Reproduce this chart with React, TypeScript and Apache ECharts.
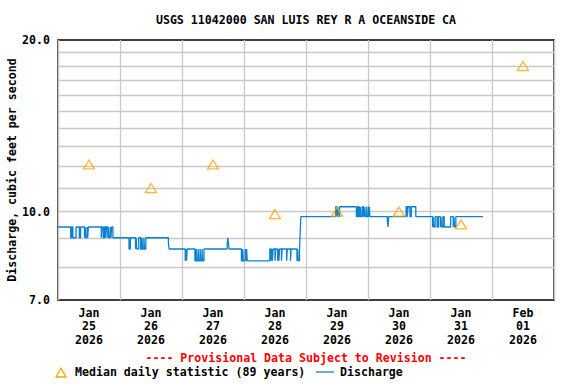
import React, { useEffect, useRef } from "react";
import * as echarts from "echarts";

const TITLE = "USGS 11042000 SAN LUIS REY R A OCEANSIDE CA";
const Y_NAME = "Discharge, cubic feet per second";
const PROVISIONAL = "---- Provisional Data Subject to Revision ----";
const MEDIAN_NAME = "Median daily statistic (89 years)";
const DISCHARGE_NAME = "Discharge";

const X_MIN = "2026-01-25 00:00";
const X_MAX = "2026-02-02 00:00";
const Y_MIN = 7;
const Y_MAX = 20;

const dayLabels = [
  "Jan\n25\n2026",
  "Jan\n26\n2026",
  "Jan\n27\n2026",
  "Jan\n28\n2026",
  "Jan\n29\n2026",
  "Jan\n30\n2026",
  "Jan\n31\n2026",
  "Feb\n01\n2026",
];

const medianValues = [12.1, 11.0, 12.1, 9.9, 10.0, 10.0, 9.5, 18.0];

const yGridValues = [8, 9, 10, 11, 12, 13, 14, 15, 16, 17, 18, 19];

// change points of the 15-minute discharge record (value holds until next point)
const discharge: [string, number][] = [
  ["2026-01-25 00:00", 9.4],
  ["2026-01-25 04:55", 9.0],
  ["2026-01-25 05:15", 9.4],
  ["2026-01-25 05:45", 9.0],
  ["2026-01-25 07:00", 9.4],
  ["2026-01-25 08:15", 9.0],
  ["2026-01-25 08:45", 9.4],
  ["2026-01-25 10:15", 9.0],
  ["2026-01-25 10:30", 9.4],
  ["2026-01-25 10:45", 9.0],
  ["2026-01-25 11:15", 9.4],
  ["2026-01-25 11:30", 9.0],
  ["2026-01-25 11:45", 9.4],
  ["2026-01-25 16:45", 9.0],
  ["2026-01-25 17:00", 9.4],
  ["2026-01-25 17:30", 9.0],
  ["2026-01-25 18:00", 9.4],
  ["2026-01-25 18:30", 9.0],
  ["2026-01-25 18:45", 9.4],
  ["2026-01-25 19:15", 9.0],
  ["2026-01-25 19:30", 9.4],
  ["2026-01-25 19:45", 9.0],
  ["2026-01-25 20:15", 9.4],
  ["2026-01-25 20:30", 9.0],
  ["2026-01-25 20:45", 9.4],
  ["2026-01-25 21:15", 9.0],
  ["2026-01-26 03:30", 8.6],
  ["2026-01-26 04:00", 9.0],
  ["2026-01-26 06:00", 8.6],
  ["2026-01-26 06:15", 9.0],
  ["2026-01-26 06:30", 8.6],
  ["2026-01-26 07:15", 9.0],
  ["2026-01-26 08:00", 8.6],
  ["2026-01-26 08:30", 9.0],
  ["2026-01-26 08:45", 8.6],
  ["2026-01-26 09:15", 9.0],
  ["2026-01-26 09:30", 8.6],
  ["2026-01-26 10:00", 9.0],
  ["2026-01-26 18:45", 8.8],
  ["2026-01-26 19:00", 8.6],
  ["2026-01-27 01:15", 8.2],
  ["2026-01-27 01:30", 8.6],
  ["2026-01-27 01:45", 8.2],
  ["2026-01-27 02:00", 8.6],
  ["2026-01-27 05:00", 8.2],
  ["2026-01-27 05:30", 8.6],
  ["2026-01-27 05:45", 8.2],
  ["2026-01-27 06:15", 8.6],
  ["2026-01-27 06:30", 8.2],
  ["2026-01-27 07:00", 8.6],
  ["2026-01-27 07:15", 8.2],
  ["2026-01-27 07:45", 8.6],
  ["2026-01-27 08:00", 8.2],
  ["2026-01-27 08:30", 8.6],
  ["2026-01-27 17:30", 8.8],
  ["2026-01-27 17:45", 9.0],
  ["2026-01-27 18:00", 8.8],
  ["2026-01-27 18:15", 8.6],
  ["2026-01-27 23:00", 8.2],
  ["2026-01-27 23:30", 8.6],
  ["2026-01-27 23:45", 8.2],
  ["2026-01-28 00:30", 8.6],
  ["2026-01-28 00:45", 8.2],
  ["2026-01-28 01:00", 8.6],
  ["2026-01-28 01:15", 8.2],
  ["2026-01-28 10:00", 8.6],
  ["2026-01-28 10:30", 8.2],
  ["2026-01-28 10:45", 8.6],
  ["2026-01-28 11:00", 8.2],
  ["2026-01-28 11:15", 8.6],
  ["2026-01-28 12:00", 8.2],
  ["2026-01-28 12:15", 8.6],
  ["2026-01-28 13:00", 8.2],
  ["2026-01-28 13:15", 8.6],
  ["2026-01-28 13:30", 8.2],
  ["2026-01-28 13:45", 8.6],
  ["2026-01-28 14:30", 8.2],
  ["2026-01-28 14:45", 8.6],
  ["2026-01-28 16:30", 8.2],
  ["2026-01-28 16:45", 8.6],
  ["2026-01-28 18:00", 8.2],
  ["2026-01-28 18:15", 8.6],
  ["2026-01-28 20:30", 8.2],
  ["2026-01-28 20:45", 8.6],
  ["2026-01-28 21:00", 8.2],
  ["2026-01-28 21:30", 8.6],
  ["2026-01-28 21:45", 9.2],
  ["2026-01-28 22:00", 9.8],
  ["2026-01-29 11:30", 10.2],
  ["2026-01-29 12:00", 9.8],
  ["2026-01-29 12:15", 10.2],
  ["2026-01-29 12:30", 9.8],
  ["2026-01-29 13:00", 10.2],
  ["2026-01-29 19:30", 9.8],
  ["2026-01-29 20:00", 10.2],
  ["2026-01-29 20:30", 9.8],
  ["2026-01-29 21:00", 10.2],
  ["2026-01-29 21:15", 9.8],
  ["2026-01-29 21:45", 10.2],
  ["2026-01-29 22:15", 9.8],
  ["2026-01-29 22:30", 10.2],
  ["2026-01-29 22:45", 9.8],
  ["2026-01-29 23:15", 10.2],
  ["2026-01-29 23:30", 9.8],
  ["2026-01-30 00:00", 10.2],
  ["2026-01-30 00:15", 9.8],
  ["2026-01-30 00:30", 10.2],
  ["2026-01-30 00:45", 9.8],
  ["2026-01-30 07:30", 9.6],
  ["2026-01-30 07:45", 9.4],
  ["2026-01-30 08:00", 9.8],
  ["2026-01-30 14:45", 10.2],
  ["2026-01-30 15:15", 9.8],
  ["2026-01-30 15:30", 10.2],
  ["2026-01-30 16:15", 9.8],
  ["2026-01-30 16:45", 10.2],
  ["2026-01-30 18:30", 9.8],
  ["2026-01-31 01:00", 9.4],
  ["2026-01-31 01:15", 9.8],
  ["2026-01-31 01:30", 9.4],
  ["2026-01-31 02:00", 9.8],
  ["2026-01-31 02:45", 9.4],
  ["2026-01-31 03:15", 9.8],
  ["2026-01-31 04:00", 9.4],
  ["2026-01-31 04:15", 9.8],
  ["2026-01-31 04:30", 9.4],
  ["2026-01-31 05:00", 9.8],
  ["2026-01-31 05:30", 9.4],
  ["2026-01-31 08:00", 9.8],
  ["2026-01-31 09:00", 9.4],
  ["2026-01-31 09:15", 9.8],
  ["2026-01-31 09:30", 9.4],
  ["2026-01-31 10:00", 9.8],
  ["2026-01-31 20:30", 9.8],
];

const FONT = "'DejaVu Sans Mono', monospace";
const FS = 11.6;
const BLUE = "#0A82CF";
const ORANGE = "#FFA500";
const GRID_GRAY = "#c8c8c8";

export default function App() {
  const ref = useRef<HTMLDivElement>(null);

  useEffect(() => {
    if (!ref.current) return;
    const chart = echarts.init(ref.current, null, { renderer: "svg" });
    const textStyleBase = {
      fontFamily: FONT,
      fontWeight: "bold" as const,
      fontSize: FS,
      color: "#000",
    };
    const gText = (text: string, x: number, y: number, align: string, fill = "#000") => ({
      type: "text",
      x,
      y,
      style: {
        text,
        fill,
        fontFamily: FONT,
        fontWeight: "bold",
        fontSize: FS,
        align,
        verticalAlign: "middle",
        textAlign: align,
        textVerticalAlign: "middle",
      },
    });
    chart.setOption({
      animation: false,
      backgroundColor: "#fff",
      grid: {
        left: 58,
        right: 22,
        top: 40,
        bottom: 84,
        show: true,
        borderColor: "#000",
        borderWidth: 1.5,
        backgroundColor: "#fff",
        containLabel: false,
        outerBoundsMode: "none",
      },
      xAxis: [
        {
          type: "time",
          min: X_MIN,
          max: X_MAX,
          minInterval: 86400000,
          maxInterval: 86400000,
          axisLine: { show: false },
          axisTick: { show: false },
          axisLabel: { show: false },
          splitLine: { show: true, lineStyle: { color: GRID_GRAY, width: 1.3 } },
        },
        {
          type: "category",
          data: dayLabels,
          boundaryGap: true,
          position: "bottom",
          axisLine: { show: false },
          axisTick: { show: false },
          splitLine: { show: false },
          axisLabel: {
            ...textStyleBase,
            margin: 6,
            lineHeight: 13.5,
            interval: 0,
          },
        },
      ],
      yAxis: {
        type: "log",
        logBase: 10,
        min: Y_MIN,
        max: Y_MAX,
        name: Y_NAME,
        nameLocation: "middle",
        nameGap: 40,
        nameMoveOverlap: false,
        nameTextStyle: { ...textStyleBase },
        axisLine: { show: false },
        axisTick: { show: false },
        splitLine: { show: false },
        axisLabel: {
          ...textStyleBase,
          margin: 8,
          showMinLabel: true,
          showMaxLabel: true,
          formatter: (v: number) => Number(v).toFixed(1),
        },
      },
      series: [
        {
          name: "gridlines",
          type: "line",
          xAxisIndex: 0,
          yAxisIndex: 0,
          data: [],
          silent: true,
          z: 1,
          markLine: {
            silent: true,
            symbol: "none",
            label: { show: false },
            lineStyle: { color: GRID_GRAY, type: "solid", width: 1.3 },
            emphasis: { disabled: true },
            data: yGridValues.map((v) => ({ yAxis: v })),
          },
        },
        {
          name: DISCHARGE_NAME,
          type: "line",
          xAxisIndex: 0,
          yAxisIndex: 0,
          step: "end",
          data: discharge,
          showSymbol: false,
          symbol: "none",
          lineStyle: { color: BLUE, width: 1.3 },
          z: 10,
          silent: true,
        },
        {
          name: MEDIAN_NAME,
          type: "scatter",
          xAxisIndex: 1,
          yAxisIndex: 0,
          data: medianValues,
          symbol: "triangle",
          symbolSize: [11, 9],
          itemStyle: {
            color: "rgba(0,0,0,0)",
            borderColor: ORANGE,
            borderWidth: 1.3,
          },
          z: 11,
          silent: true,
        },
      ],
      graphic: [
        gText(TITLE, 306, 20, "center"),
        gText(PROVISIONAL, 306, 358, "center", "#ff0000"),
        {
          type: "polygon",
          shape: { points: [[56, 377], [66, 377], [61, 368]] },
          style: { fill: "none", stroke: ORANGE, lineWidth: 1.3 },
        },
        gText(MEDIAN_NAME, 75, 372, "left"),
        {
          type: "line",
          shape: { x1: 316, y1: 372, x2: 334, y2: 372 },
          style: { stroke: BLUE, lineWidth: 1.3 },
        },
        gText(DISCHARGE_NAME, 340, 372, "left"),
      ],
    });
    return () => chart.dispose();
  }, []);

  return (
    <div
      ref={ref}
      style={{ position: "absolute", left: 0, top: 0, width: 576, height: 384 }}
    />
  );
}
